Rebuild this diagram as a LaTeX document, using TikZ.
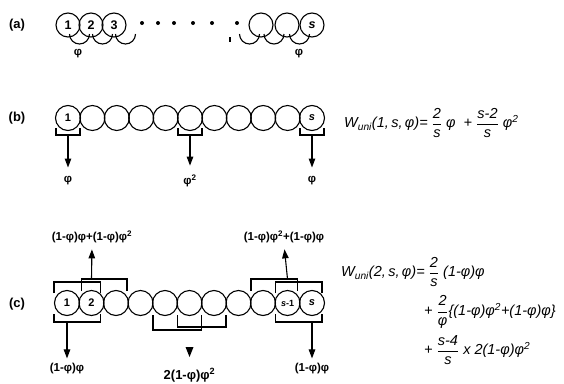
\documentclass[tikz,border=0pt]{standalone}
\usepackage{fontspec}
\setmainfont{Liberation Sans}
\usetikzlibrary{calc,arrows.meta}
\newcommand\myfrac[2]{$\displaystyle\frac{\mbox{#1}}{\mbox{#2}}$}
\begin{document}
\begin{tikzpicture}[x=1pt,y=-1pt,
  circ/.style={circle,draw,line width=1.1pt,minimum size=25pt,inner sep=0pt,font=\fontsize{11}{11}\selectfont\bfseries},
  brk/.style={line width=1.1pt},
  arr/.style={line width=1.1pt,-{Triangle[length=9pt,width=6.5pt]}},
  lbl/.style={font=\fontsize{11.5}{13}\selectfont\bfseries,inner sep=1pt},
  tag/.style={font=\fontsize{13}{14}\selectfont\bfseries},
  eq/.style={font=\fontsize{14.5}{16}\selectfont\itshape,inner sep=0pt,anchor=west}]
\useasboundingbox (0,0) rectangle (564,383);
% ---------- (a)
\node[tag] (ta) at (17,25) {(a)};
\foreach \n/\x/\t in {a1/68/1,a2/91/2,a3/114/3,a4/261/,a5/287/,a6/312/{\itshape s}}
  \node[circ,minimum size=24pt,font=\fontsize{12.5}{12}\selectfont\bfseries] (\n) at (\x,25) {\t};
\foreach \m in {79.5,102.5,125.5,249.5,274,299.5}
  \draw[brk] ({\m-10},34) arc[start angle=180,end angle=360,radius=10pt];
\foreach \x in {142,158,174,193,212,237}
  \fill (\x,23) circle[radius=2pt];
\draw[brk] (230,37) -- (230,42);
\node[lbl] (pa1) at (78,54) {φ};
\node[lbl] (pa2) at (299,54) {φ};
% ---------- (b)
\node[tag] (tb) at (17,118) {(b)};
\foreach \i in {0,...,10}
  \node[circ] (b\i) at ({68+24.4*\i},118) {\ifnum\i=0 1\fi\ifnum\i=10 \itshape s\fi};
\foreach \i/\lab in {0/φ,5/φ\textsuperscript{2},10/φ} {
  \draw[brk] ($(b\i)+(-12,10)$) |- ($(b\i)+(0,17)$) coordinate (bk\i) -| ($(b\i)+(12,10)$);
  \node[lbl] (pb\i) at ($(b\i)+(0,63)$) {\lab};
  \draw[arr,shorten >=8pt] (bk\i) -- (pb\i.north);
}
\node[eq] (eqb) at (344,123) {W\textsubscript{uni}(1,\,s,\,φ)= \myfrac{2}{s} φ \;+ \myfrac{s-2}{s} φ\textsuperscript{2}};
% ---------- (c)
\node[tag] (tc) at (17,304) {(c)};
\foreach \i in {0,...,10}
  \node[circ] (c\i) at ({67+24.5*\i},303) {\ifnum\i=0 1\fi\ifnum\i=1 2\fi\ifnum\i=9 \fontsize{9}{9}\selectfont\itshape s\upshape -1\fi\ifnum\i=10 \itshape s\fi};
% top left brackets
\draw[brk] ($(c0)+(-13,-10)$) |- ($(c0)+(0,-21)$) -| ($(c1)+(9,-10)$);
\draw[brk] ($(c1)+(-10,-12)$) |- ($(c1)+(0,-24)$) coordinate (tl) -| ($(c2)+(11,-12)$);
% top right brackets
\draw[brk] ($(c8)+(-12,-12)$) |- ($(c9)+(0,-24)$) coordinate (tr) -| ($(c9)+(10,-12)$);
\draw[brk] ($(c9)+(-12,-10)$) |- ($(c10)+(0,-21)$) -| ($(c10)+(10,-10)$);
% bottom brackets
\draw[brk] ($(c0)+(-13,11)$) |- ($(c0)+(0,19)$) coordinate (bl) -| ($(c1)+(9,11)$);
\draw[brk] ($(c4)+(-12,12)$) |- ($(c4)+(0,27)$) -| ($(c5)+(12,12)$);
\draw[brk] ($(c5)+(-12,12)$) |- ($(c5)+(0,24)$) coordinate (bm) -| ($(c6)+(12,12)$);
\draw[brk] ($(c9)+(-12,11)$) |- ($(c10)+(0,19)$) coordinate (br) -| ($(c10)+(10,11)$);
% labels
\node[lbl] (ptl) at (92,237) {(1-φ)φ+(1-φ)φ\textsuperscript{2}};
\node[lbl] (ptr) at (284,237) {(1-φ)φ\textsuperscript{2}+(1-φ)φ};
\node[lbl] (pbl) at (67,369) {(1-φ)φ};
\node[lbl] (pbr) at (312,369) {(1-φ)φ};
\node[lbl,font=\fontsize{13}{14}\selectfont\bfseries] (pbm) at (189.5,375) {2(1-φ)φ\textsuperscript{2}};
% arrows
\draw[arr,shorten >=5pt] (tl) -- (ptl.south);
\draw[arr,shorten >=5pt] (tr) -- (ptr.south);
\draw[arr,shorten >=4pt] (bl) -- (pbl.north);
\draw[arr,shorten >=4pt] (br) -- (pbr.north);
\fill ($(bm)+(-4,20)$) -- ($(bm)+(4,20)$) -- ($(bm)+(0,30)$) -- cycle;
% equation (c)
\node[eq] (eqc1) at (341,272) {W\textsubscript{uni}(2,\,s,\,φ)= \myfrac{2}{s} (1-φ)φ};
\node[eq] (eqc2) at (424,312) {+ \myfrac{2}{φ}\{(1-φ)φ\textsuperscript{2}+(1-φ)φ\}};
\node[eq] (eqc3) at (424,350) {+ \myfrac{s-4}{s} x 2(1-φ)φ\textsuperscript{2}};
\end{tikzpicture}
\end{document}
